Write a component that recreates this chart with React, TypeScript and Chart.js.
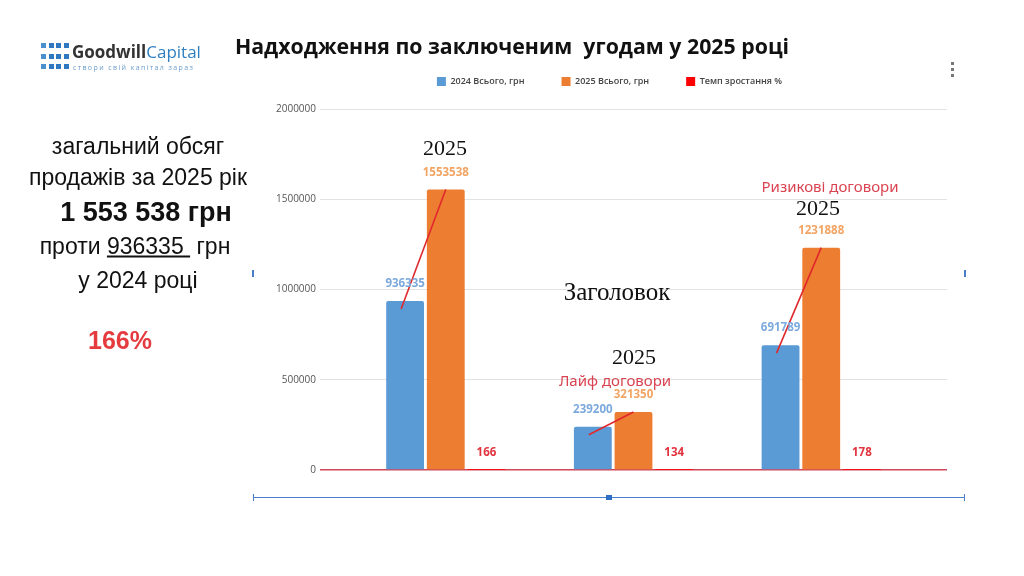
import React, { useEffect, useRef } from "react";
import { Chart, registerables } from "chart.js";

Chart.register(...registerables);

const categories = ["Загалом", "Лайф договори", "Ризикові договори"];
const sales2024 = [936335, 239200, 691789];
const sales2025 = [1553538, 321350, 1231888];
const growthRate = [166, 134, 178];
const seriesLabels = ["2024 Всього, грн", "2025 Всього, грн", "Темп зростання %"];
const seriesColors = ["#5B9BD5", "#ED7D31", "#FF0000"];
const valueLabelColors = ["#7CA9DC", "#F2A464", "#E2333F"];
const yMax = 2000000;
const yStep = 500000;

const toPoints = (arr: number[]) => arr.map((v, i) => ({ x: i + 1, y: v }));

const valueLabels = {
  id: "valueLabels",
  afterDatasetsDraw(chart: any) {
    const ctx = chart.ctx;
    ctx.save();
    const m0 = chart.getDatasetMeta(0);
    const m1 = chart.getDatasetMeta(1);
    ctx.strokeStyle = "#E0282C";
    ctx.lineWidth = 1.6;
    m0.data.forEach((b: any, i: number) => {
      const o = m1.data[i];
      ctx.beginPath();
      ctx.moveTo(b.x - 4, b.y + 8);
      ctx.lineTo(o.x, o.y);
      ctx.stroke();
    });
    ctx.font = "bold 11.5px 'Open Sans'";
    ctx.textAlign = "center";
    ctx.textBaseline = "middle";
    chart.data.datasets.forEach((ds: any, di: number) => {
      const meta = chart.getDatasetMeta(di);
      ctx.fillStyle = valueLabelColors[di];
      meta.data.forEach((el: any, i: number) => {
        ctx.fillText(String(ds.data[i].y), el.x, el.y - 17);
      });
    });
    ctx.restore();
  },
};

function ChartCanvas() {
  const ref = useRef<HTMLCanvasElement | null>(null);
  useEffect(() => {
    if (!ref.current) return;
    const chart = new Chart(ref.current, {
      type: "bar",
      data: {
        labels: categories,
        datasets: [
          { label: seriesLabels[0], data: toPoints(sales2024), backgroundColor: seriesColors[0], borderRadius: 2, borderSkipped: "bottom" },
          { label: seriesLabels[1], data: toPoints(sales2025), backgroundColor: seriesColors[1], borderRadius: 2, borderSkipped: "bottom" },
          { label: seriesLabels[2], data: toPoints(growthRate), backgroundColor: seriesColors[2] },
        ],
      } as any,
      options: {
        animation: false,
        responsive: false,
        maintainAspectRatio: false,
        devicePixelRatio: 1,
        layout: { padding: { left: 250, right: 55, top: 40, bottom: 106 } },
        datasets: { bar: { categoryPercentage: 0.65, barPercentage: 0.93 } } as any,
        plugins: {
          tooltip: { enabled: false },
          legend: {
            position: "top",
            align: "center",
            labels: {
              boxWidth: 9,
              boxHeight: 9,
              padding: 37,
              color: "#444",
              font: { family: "'Open Sans'", size: 9, weight: "600" },
            },
          },
        },
        scales: {
          x: {
            type: "linear",
            min: 0.33,
            max: 3.67,
            offset: false,
            display: false,
            ticks: { stepSize: 1, includeBounds: false },
          },
          xTop: {
            type: "linear",
            position: "top",
            display: true,
            ticks: { display: false },
            grid: { display: false, drawTicks: false },
            border: { display: false },
            afterFit: (s: any) => { s.height = 13; },
          },
          y: {
            min: 0,
            max: yMax,
            afterFit: (s: any) => { s.width = 70; },
            ticks: {
              stepSize: yStep,
              padding: 4,
              color: "#555",
              font: { family: "'Open Sans'", size: 10 },
              callback: (v: any) => String(v),
            },
            grid: {
              drawTicks: false,
              color: (c: any) => (c.tick && c.tick.value === 0 ? "#D0475A" : "#E2E2E2"),
              lineWidth: (c: any) => (c.tick && c.tick.value === 0 ? 1.5 : 1),
            },
            border: { display: false },
          },
          yRight: {
            type: "linear",
            position: "right",
            display: true,
            ticks: { display: false },
            grid: { display: false, drawTicks: false },
            border: { display: false },
            afterFit: (s: any) => { s.width = 22; },
          },
        },
      } as any,
      plugins: [valueLabels],
    });
    return () => chart.destroy();
  }, []);
  return <canvas ref={ref} width={1024} height={576} style={{ position: "absolute", left: 0, top: 0, width: 1024, height: 576 }} />;
}

const abs = (x: number, y: number, extra: React.CSSProperties = {}): React.CSSProperties => ({
  position: "absolute",
  left: x,
  top: y,
  transform: "translate(-50%, -50%)",
  whiteSpace: "pre",
  lineHeight: 1,
  ...extra,
});

const leftFont = "'Liberation Sans', Arial, sans-serif";
const serif = "'Liberation Serif', serif";

export default function App() {
  const squares: any[] = [];
  for (let r = 0; r < 3; r++) {
    for (let c = 0; c < 4; c++) {
      squares.push(
        <div key={r + "-" + c} style={{ position: "absolute", left: 41 + c * 7.5, top: 43 + r * 10.5, width: 5, height: 5, background: c === 0 ? "#4A90CF" : "#2D78C0" }} />
      );
    }
  }
  return (
    <div style={{ position: "absolute", left: 0, top: 0, width: 1024, height: 576, background: "#fff", overflow: "hidden" }}>
      <ChartCanvas />
      {squares}
      <div style={{ position: "absolute", left: 72, top: 43, fontFamily: "'Open Sans', sans-serif", fontSize: 17, lineHeight: 1, whiteSpace: "pre" }}>
        <span style={{ fontWeight: 700, color: "#333" }}>Goodwill</span>
        <span style={{ fontWeight: 400, color: "#2F7FC1" }}>Capital</span>
      </div>
      <div style={{ position: "absolute", left: 73, top: 64, fontFamily: "'Open Sans', sans-serif", fontSize: 7, letterSpacing: 1.4, color: "#6C9DCB", lineHeight: 1, whiteSpace: "pre" }}>
        створи свій капітал зараз
      </div>
      <div style={abs(512, 46, { fontFamily: "'Open Sans', sans-serif", fontWeight: 700, fontSize: 21.3, color: "#111" })}>
        Надходження по заключеним  угодам у 2025 році
      </div>
      <div style={{ position: "absolute", left: 951, top: 62, width: 3, height: 3, background: "#777" }} />
      <div style={{ position: "absolute", left: 951, top: 68, width: 3, height: 3, background: "#777" }} />
      <div style={{ position: "absolute", left: 951, top: 74, width: 3, height: 3, background: "#777" }} />

      <div style={abs(138, 146, { fontFamily: leftFont, fontSize: 23, color: "#111" })}>загальний обсяг</div>
      <div style={abs(138, 177, { fontFamily: leftFont, fontSize: 23, color: "#111" })}>продажів за 2025 рік</div>
      <div style={abs(146, 212, { fontFamily: leftFont, fontSize: 27, fontWeight: 700, color: "#111" })}>1 553 538 грн</div>
      <div style={abs(135, 246, { fontFamily: leftFont, fontSize: 23, color: "#111" })}>
        проти <span style={{ textDecoration: "underline" }}>936335 </span> грн
      </div>
      <div style={abs(138, 280, { fontFamily: leftFont, fontSize: 23, color: "#111" })}>у 2024 році</div>
      <div style={abs(120, 340, { fontFamily: leftFont, fontSize: 25, fontWeight: 700, color: "#E53B3F" })}>166%</div>

      <div style={abs(445, 148, { fontFamily: serif, fontSize: 22, color: "#111" })}>2025</div>
      <div style={abs(617, 291, { fontFamily: serif, fontSize: 25, color: "#111" })}>Заголовок</div>
      <div style={abs(634, 357, { fontFamily: serif, fontSize: 22, color: "#111" })}>2025</div>
      <div style={abs(818, 208, { fontFamily: serif, fontSize: 22, color: "#111" })}>2025</div>
      <div style={abs(615, 380, { fontFamily: "'Noto Sans', sans-serif", fontSize: 15, color: "#DA4452" })}>Лайф договори</div>
      <div style={abs(830, 186, { fontFamily: "'Noto Sans', sans-serif", fontSize: 15, color: "#DA4452" })}>Ризикові договори</div>

      <div style={{ position: "absolute", left: 253, top: 497, width: 712, height: 1, background: "#4A7FC8" }} />
      <div style={{ position: "absolute", left: 253, top: 494, width: 1, height: 7, background: "#4A7FC8" }} />
      <div style={{ position: "absolute", left: 964, top: 494, width: 1, height: 7, background: "#4A7FC8" }} />
      <div style={{ position: "absolute", left: 606, top: 495, width: 6, height: 5, background: "#2F6FC8" }} />
      <div style={{ position: "absolute", left: 252, top: 270, width: 2, height: 7, background: "#4A7FC8" }} />
      <div style={{ position: "absolute", left: 964, top: 270, width: 2, height: 7, background: "#4A7FC8" }} />
    </div>
  );
}
